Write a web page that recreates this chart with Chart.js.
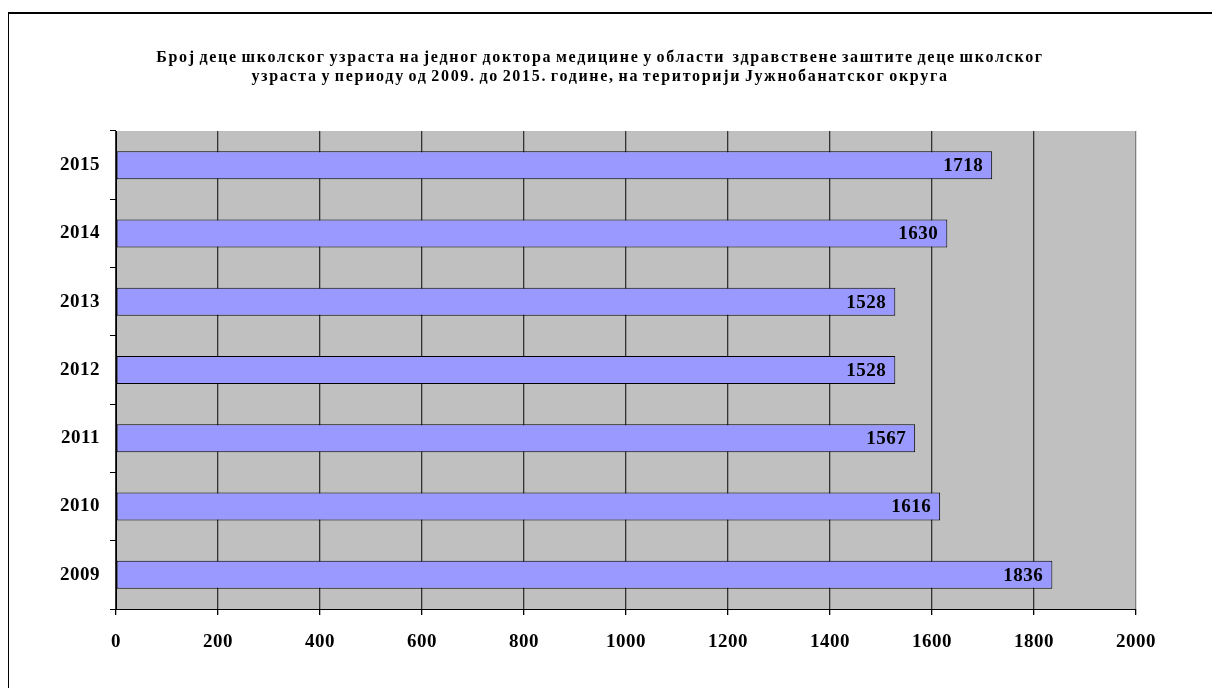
<!DOCTYPE html>
<html lang="sr">
<head>
    <meta charset="UTF-8">
    <title>Број деце школског узраста на једног доктора медицине</title>
    <script src="https://cdn.jsdelivr.net/npm/chart.js"></script>
    <style>
        body {
            margin: 0;
            padding: 0;
            background-color: #ffffff;
        }
        #frame {
            position: absolute;
            left: 8px;
            top: 12px;
            width: 1300px;
            height: 800px;
            border-top: 2px solid #000;
            border-left: 1px solid #000;
        }
        #title {
            position: absolute;
            left: 0;
            top: 48px;
            width: 1200px;
            text-align: center;
            font-family: "Liberation Serif", "Times New Roman", serif;
            font-weight: bold;
            font-size: 16px;
            line-height: 18.5px;
            letter-spacing: 1.7px;
            word-spacing: -2px;
            color: #000;
            white-space: pre;
        }
        .chart-container {
            position: absolute;
            left: 0;
            top: 0;
            width: 1212px;
            height: 688px;
        }
    </style>
</head>
<body>
    <div id="frame"></div>
    <div class="chart-container">
        <canvas id="myChart"></canvas>
    </div>
    <div id="title"></div>

    <script>
        // подаци
        const years = ['2009', '2010', '2011', '2012', '2013', '2014', '2015'];
        const childrenPerDoctor = [1836, 1616, 1567, 1528, 1528, 1630, 1718];
        const titleLines = [
            'Број деце школског узраста на једног доктора медицине у области  здравствене заштите деце школског',
            'узраста у периоду од 2009. до 2015. године, на територији Јужнобанатског округа'
        ];

        document.getElementById('title').textContent = titleLines.join('\n');

        const serif = '"Liberation Serif", "Times New Roman", serif';

        // сива позадина области графика
        const plotBackground = {
            id: 'plotBackground',
            beforeDraw(chart) {
                const { ctx, chartArea: a } = chart;
                ctx.letterSpacing = '0.5px'; // мало шири размак као у оригиналу
                ctx.save();
                ctx.fillStyle = '#c0c0c0';
                ctx.fillRect(a.left, a.top, a.right - a.left, a.bottom - a.top);
                ctx.restore();
            }
        };

        // вредности унутар трака
        const barValues = {
            id: 'barValues',
            afterDatasetsDraw(chart) {
                const { ctx } = chart;
                const meta = chart.getDatasetMeta(0);
                ctx.save();
                ctx.letterSpacing = '0.5px';
                ctx.font = 'bold 19px ' + serif;
                ctx.fillStyle = '#000';
                ctx.textAlign = 'right';
                ctx.textBaseline = 'middle';
                meta.data.forEach((bar, i) => {
                    ctx.fillText(chart.data.datasets[0].data[i], bar.x - 9, bar.y + 1);
                });
                ctx.restore();
            }
        };

        const ctx = document.getElementById('myChart').getContext('2d');
        new Chart(ctx, {
            type: 'bar',
            data: {
                labels: years,
                datasets: [{
                    data: childrenPerDoctor,
                    backgroundColor: '#9999ff',
                    borderColor: '#000000',
                    borderWidth: 1,
                    borderSkipped: false,
                    barPercentage: 0.41,
                    categoryPercentage: 1
                }]
            },
            options: {
                indexAxis: 'y',
                responsive: true,
                maintainAspectRatio: false,
                animation: false,
                layout: {
                    padding: { left: 0, right: 76, top: 131, bottom: 0 }
                },
                scales: {
                    x: {
                        min: 0,
                        max: 2000,
                        ticks: {
                            stepSize: 200,
                            color: '#000',
                            padding: 16,
                            font: { family: serif, size: 19, weight: 'bold' },
                            maxRotation: 0,
                            callback: (v) => String(v)
                        },
                        grid: {
                            color: (c) => c.index === 10 ? '#808080' : '#333333',
                            tickColor: '#000',
                            tickLength: 6,
                            lineWidth: 1.3
                        },
                        border: { color: '#000', width: 1 },
                        afterFit: (scale) => { scale.height = 79; }
                    },
                    y: {
                        reverse: true,
                        ticks: {
                            color: '#000',
                            padding: 10,
                            font: { family: serif, size: 19, weight: 'bold' }
                        },
                        grid: {
                            offset: true,
                            drawOnChartArea: false,
                            tickColor: '#000',
                            tickLength: 6
                        },
                        border: { color: '#000', width: 1 },
                        afterFit: (scale) => { scale.width = 116; }
                    }
                },
                plugins: {
                    legend: { display: false },
                    tooltip: { enabled: false },
                    title: { display: false }
                }
            },
            plugins: [plotBackground, barValues]
        });
    </script>
</body>
</html>
